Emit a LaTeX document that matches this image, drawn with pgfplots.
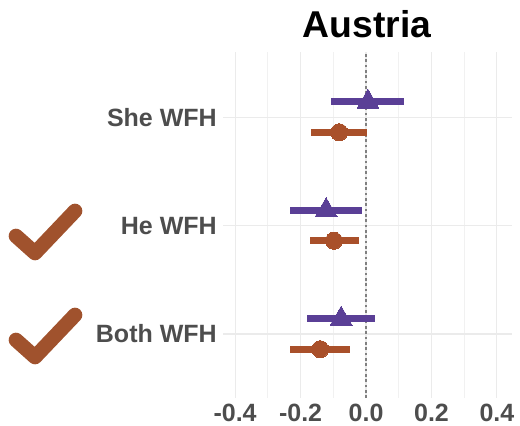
\documentclass[border=0pt]{standalone}
\usepackage{fontspec}
\setmainfont{Liberation Sans}
\usepackage{pgfplots}
\usepackage{pgfplotstable}
\pgfplotsset{compat=1.18}
\definecolor{purp}{HTML}{5A3F96}
\definecolor{orng}{HTML}{A9502A}
\definecolor{chk}{HTML}{A0522D}
\definecolor{lab}{HTML}{4D4D4D}
\definecolor{grd}{HTML}{EBEBEB}
\pgfplotstableread{
y x lo hi
3.14 0.006 -0.107 0.116
2.14 -0.122 -0.232 -0.012
1.14 -0.076 -0.180 0.027
}\tri
\pgfplotstableread{
y x lo hi
2.86 -0.082 -0.168 0.003
1.86 -0.098 -0.171 -0.021
0.86 -0.140 -0.232 -0.049
}\cir
\begin{document}
\begin{tikzpicture}
\useasboundingbox (0,0) rectangle (390pt,318.75pt);
\begin{axis}[
  at={(167.25pt,20.25pt)}, anchor=south west,
  scale only axis, width=216.75pt, height=259.5pt,
  xmin=-0.437, xmax=0.446, ymin=0.41, ymax=3.6,
  axis line style={draw=none},
  major tick length=0, minor tick length=0,
  xtick={-0.4,-0.2,0,0.2,0.4},
  xticklabels={-0.4,-0.2,0.0,0.2,0.4},
  minor xtick={-0.3,-0.1,0.1,0.3},
  ytick={1,2,3},
  yticklabels={Both WFH,He WFH,She WFH},
  xmajorgrids, xminorgrids, ymajorgrids,
  major grid style={grd, line width=0.8pt},
  minor grid style={grd!70, line width=0.6pt},
  tick label style={font=\fontsize{18.75}{20}\selectfont\bfseries, text=lab},
  xticklabel style={inner sep=0pt, yshift=-4pt, anchor=north},
  yticklabel style={inner sep=0pt, xshift=-4.5pt, anchor=east},
  clip=false,
]
\addplot[gray, line width=1.1pt, dash pattern=on 2pt off 2pt] coordinates {(0,0.41) (0,3.6)};
\addplot[draw=none, forget plot, error bars/.cd, x dir=both, x explicit, error mark=none,
  error bar style={purp, line width=5.25pt}]
  table[x=x, y=y, x error plus expr=\thisrow{hi}-\thisrow{x}, x error minus expr=\thisrow{x}-\thisrow{lo}] {\tri};
\addplot[draw=none, forget plot, error bars/.cd, x dir=both, x explicit, error mark=none,
  error bar style={orng, line width=5.25pt}]
  table[x=x, y=y, x error plus expr=\thisrow{hi}-\thisrow{x}, x error minus expr=\thisrow{x}-\thisrow{lo}] {\cir};
\addplot[only marks, mark=triangle*, mark size=9.5pt, purp, mark options={fill=purp, draw=purp, line width=0pt}] table[x=x, y=y] {\tri};
\addplot[only marks, mark=*, mark size=6.4pt, orng, mark options={fill=orng, draw=orng, line width=0pt}] table[x=x, y=y] {\cir};
\end{axis}
\node[anchor=base, font=\fontsize{28}{30}\selectfont\bfseries] at (275.2pt,290.5pt) {Austria};
\draw[chk, line width=11pt, line cap=round, line join=round] (12pt,141.75pt) -- (26.25pt,129pt) -- (56.25pt,160.5pt);
\draw[chk, line width=11pt, line cap=round, line join=round] (12pt,63.75pt) -- (26.25pt,51pt) -- (56.25pt,82.5pt);
\end{tikzpicture}
\end{document}
